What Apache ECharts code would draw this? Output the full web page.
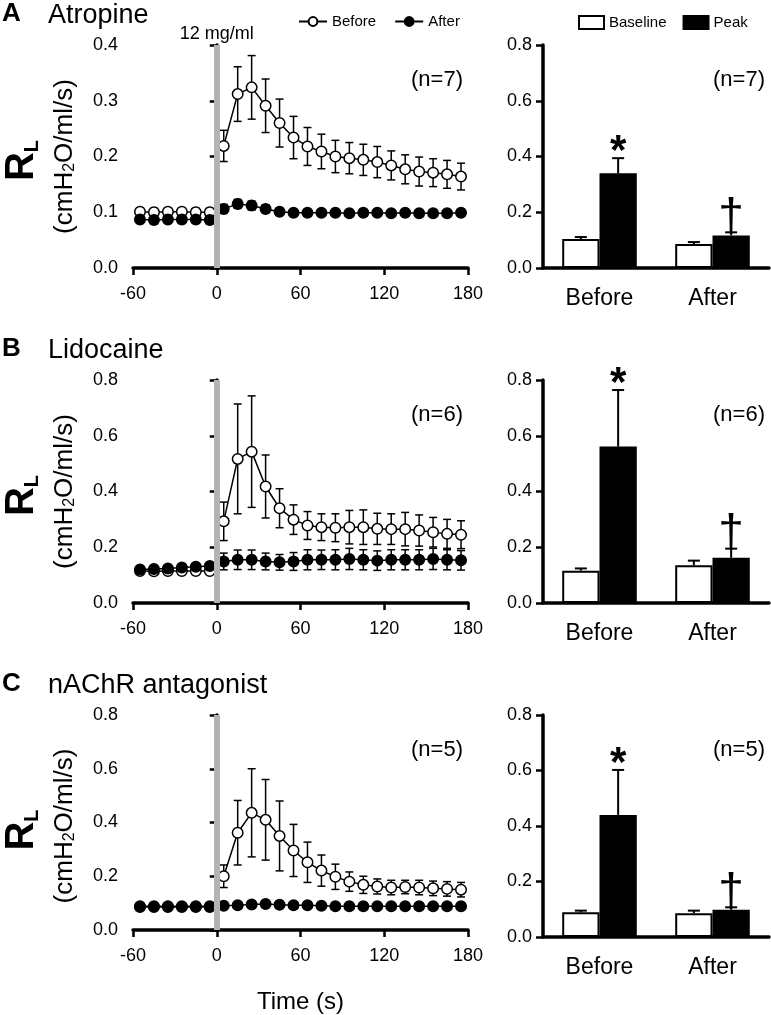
<!DOCTYPE html>
<html>
<head>
<meta charset="utf-8">
<script src="https://cdn.jsdelivr.net/npm/echarts@6/dist/echarts.min.js"></script>
<style>html,body{margin:0;padding:0;background:#fff}#c{width:771px;height:1015px}</style>
</head>
<body>
<div id="c"></div>
<script>
// ---------- DATA ----------
const preTimes = [-55, -45, -35, -25, -15, -5];
const postTimes = [5, 15, 25, 35, 45, 55, 65, 75, 85, 95, 105, 115, 125, 135, 145, 155, 165, 175];
const xTicks = [-60, 0, 60, 120, 180];
const barCategories = ['Before', 'After'];
const annotations = ['*', '\u2020'];

const panelTitles = ['Atropine', 'Lidocaine', 'nAChR antagonist'];
const panelLetters = ['A', 'B', 'C'];
const nLabels = ['(n=7)', '(n=6)', '(n=5)'];
const doseLabel = '12 mg/ml';

// Panel A – Atropine
const aBeforePre = [0.101, 0.100, 0.101, 0.101, 0.100, 0.100];
const aBeforePreErr = [0.007, 0.007, 0.007, 0.007, 0.007, 0.007];
const aBeforePost = [0.219, 0.312, 0.324, 0.291, 0.260, 0.234, 0.218, 0.209, 0.200, 0.197, 0.194, 0.190, 0.184, 0.177, 0.173, 0.171, 0.168, 0.164];
const aBeforePostErr = [0.028, 0.049, 0.057, 0.048, 0.043, 0.038, 0.034, 0.031, 0.029, 0.028, 0.028, 0.028, 0.026, 0.026, 0.026, 0.025, 0.025, 0.024];
const aAfterPre = [0.087, 0.086, 0.087, 0.087, 0.087, 0.086];
const aAfterPreErr = [0.007, 0.007, 0.007, 0.007, 0.007, 0.007];
const aAfterPost = [0.106, 0.115, 0.112, 0.106, 0.101, 0.099, 0.099, 0.099, 0.099, 0.098, 0.099, 0.099, 0.098, 0.099, 0.098, 0.098, 0.098, 0.099];
const aAfterPostErr = [0.008, 0.008, 0.008, 0.007, 0.006, 0.005, 0.005, 0.005, 0.005, 0.005, 0.005, 0.005, 0.005, 0.005, 0.005, 0.005, 0.005, 0.005];
const aBaseline = [0.104, 0.086];
const aBaselineErr = [0.007, 0.007];
const aPeak = [0.340, 0.117];
const aPeakErr = [0.054, 0.011];

// Panel B – Lidocaine
const bBeforePre = [0.115, 0.114, 0.115, 0.115, 0.115, 0.115];
const bBeforePreErr = [0.005, 0.005, 0.005, 0.005, 0.005, 0.005];
const bBeforePost = [0.293, 0.517, 0.543, 0.418, 0.340, 0.299, 0.278, 0.272, 0.270, 0.272, 0.272, 0.266, 0.265, 0.265, 0.260, 0.254, 0.248, 0.245];
const bBeforePostErr = [0.069, 0.197, 0.200, 0.113, 0.070, 0.053, 0.050, 0.048, 0.050, 0.060, 0.062, 0.056, 0.055, 0.060, 0.056, 0.053, 0.052, 0.050];
const bAfterPre = [0.120, 0.122, 0.124, 0.127, 0.130, 0.133];
const bAfterPreErr = [0.004, 0.005, 0.006, 0.007, 0.008, 0.009];
const bAfterPost = [0.149, 0.155, 0.155, 0.149, 0.146, 0.149, 0.155, 0.155, 0.155, 0.158, 0.155, 0.152, 0.155, 0.155, 0.155, 0.158, 0.155, 0.153];
const bAfterPostErr = [0.030, 0.035, 0.035, 0.030, 0.028, 0.032, 0.036, 0.035, 0.036, 0.038, 0.036, 0.035, 0.036, 0.036, 0.036, 0.038, 0.036, 0.035];
const bBaseline = [0.116, 0.135];
const bBaselineErr = [0.008, 0.017];
const bPeak = [0.561, 0.162];
const bPeakErr = [0.203, 0.033];

// Panel C – nAChR antagonist
const cBeforePre = [0.088, 0.088, 0.088, 0.088, 0.088, 0.088];
const cBeforePreErr = [0.004, 0.004, 0.004, 0.004, 0.004, 0.004];
const cBeforePost = [0.200, 0.362, 0.436, 0.410, 0.350, 0.296, 0.252, 0.221, 0.198, 0.180, 0.168, 0.162, 0.158, 0.160, 0.158, 0.155, 0.153, 0.150];
const cBeforePostErr = [0.042, 0.120, 0.164, 0.150, 0.130, 0.097, 0.075, 0.058, 0.047, 0.036, 0.032, 0.028, 0.027, 0.025, 0.027, 0.027, 0.027, 0.027];
const cAfterPre = [0.086, 0.086, 0.086, 0.086, 0.086, 0.086];
const cAfterPreErr = [0.003, 0.003, 0.003, 0.003, 0.003, 0.003];
const cAfterPost = [0.090, 0.092, 0.095, 0.097, 0.094, 0.092, 0.092, 0.090, 0.088, 0.088, 0.088, 0.088, 0.088, 0.088, 0.088, 0.088, 0.088, 0.088];
const cAfterPostErr = [0.004, 0.004, 0.004, 0.004, 0.004, 0.004, 0.004, 0.004, 0.004, 0.004, 0.004, 0.004, 0.004, 0.004, 0.004, 0.004, 0.004, 0.004];
const cBaseline = [0.089, 0.086];
const cBaselineErr = [0.006, 0.009];
const cPeak = [0.440, 0.098];
const cPeakErr = [0.162, 0.009];

// ---------- LAYOUT ----------
const FONT = 'Liberation Sans, Arial, sans-serif';
const panels = [
  { top: 45, height: 223, lineMax: 0.4, lineInt: 0.1,
    before: [aBeforePre, aBeforePost, aBeforePreErr, aBeforePostErr],
    after: [aAfterPre, aAfterPost, aAfterPreErr, aAfterPostErr],
    bars: [aBaseline, aBaselineErr, aPeak, aPeakErr] },
  { top: 380, height: 223, lineMax: 0.8, lineInt: 0.2,
    before: [bBeforePre, bBeforePost, bBeforePreErr, bBeforePostErr],
    after: [bAfterPre, bAfterPost, bAfterPreErr, bAfterPostErr],
    bars: [bBaseline, bBaselineErr, bPeak, bPeakErr] },
  { top: 715, height: 222, lineMax: 0.8, lineInt: 0.2,
    before: [cBeforePre, cBeforePost, cBeforePreErr, cBeforePostErr],
    after: [cAfterPre, cAfterPost, cAfterPreErr, cAfterPostErr],
    bars: [cBaseline, cBaselineErr, cPeak, cPeakErr] }
];
const LINE_LEFT = 133, LINE_W = 335, BAR_LEFT = 543, BAR_W = 226;

function lineData(pre, post) {
  return preTimes.map((t, i) => [t, pre[i]])
    .concat([[0, null]])
    .concat(postTimes.map((t, i) => [t, post[i]]));
}
function errData(pre, post, preE, postE) {
  return preTimes.map((t, i) => [t, pre[i], preE[i]])
    .concat(postTimes.map((t, i) => [t, post[i], postE[i]]));
}
function renderLineErr(params, api) {
  const x = api.value(0), y = api.value(1), e = api.value(2);
  const t = api.coord([x, y + e]), b = api.coord([x, y - e]);
  const hw = 4, st = { stroke: '#000', lineWidth: 1.5 };
  return { type: 'group', children: [
    { type: 'line', shape: { x1: t[0], y1: t[1], x2: b[0], y2: b[1] }, style: st },
    { type: 'line', shape: { x1: t[0] - hw, y1: t[1], x2: t[0] + hw, y2: t[1] }, style: st },
    { type: 'line', shape: { x1: b[0] - hw, y1: b[1], x2: b[0] + hw, y2: b[1] }, style: st }
  ]};
}
function makeBarErr(sign, marks) {
  return function (params, api) {
    const idx = api.value(0), v = api.value(1), e = api.value(2);
    const band = api.size([1, 0])[0];
    const base = api.coord([idx, v]), top = api.coord([idx, v + e]);
    const x = base[0] + sign * 0.165 * band;
    const hw = 6, st = { stroke: '#000', lineWidth: 2 };
    const ch = [
      { type: 'line', shape: { x1: x, y1: base[1], x2: x, y2: top[1] }, style: st },
      { type: 'line', shape: { x1: x - hw, y1: top[1], x2: x + hw, y2: top[1] }, style: st }
    ];
    if (marks) {
      const g = marks[params.dataIndex];
      const isStar = g === '*';
      ch.push({ type: 'text', x: x, y: top[1] + (isStar ? 15 : 9),
        style: { text: g, fill: '#000', font: (isStar ? 'bold 42px ' : '46px ') + FONT,
          textAlign: 'center', textVerticalAlign: 'bottom' } });
    }
    return { type: 'group', children: ch };
  };
}

const grids = [], xAxes = [], yAxes = [], series = [], graphics = [];
const axisLineStyle = { color: '#000', width: 3.5 };
const tickStyle = { color: '#000', width: 2.5 };

panels.forEach((p, k) => {
  grids.push({ left: LINE_LEFT, top: p.top, width: LINE_W, height: p.height });
  grids.push({ left: BAR_LEFT, top: p.top, width: BAR_W, height: p.height });
  const gL = 2 * k, gB = 2 * k + 1;
  xAxes.push({ gridIndex: gL, type: 'value', min: -60, max: 180, interval: 60,
    axisLine: { lineStyle: axisLineStyle }, axisTick: { length: 7, lineStyle: tickStyle },
    splitLine: { show: false },
    axisLabel: { color: '#000', fontSize: 18, fontFamily: FONT, margin: 17 },
    name: k === 2 ? 'Time (s)' : '', nameLocation: 'middle', nameGap: 60,
    nameTextStyle: { color: '#000', fontSize: 24, fontFamily: FONT } });
  yAxes.push({ gridIndex: gL, type: 'value', min: 0, max: p.lineMax, interval: p.lineInt,
    axisLine: { show: true, lineStyle: axisLineStyle }, axisTick: { show: true, length: 7, lineStyle: tickStyle },
    splitLine: { show: false },
    axisLabel: { color: '#000', fontSize: 18, fontFamily: FONT, margin: 15, formatter: v => v.toFixed(1) } });
  xAxes.push({ gridIndex: gB, type: 'category', data: barCategories,
    axisLine: { lineStyle: axisLineStyle }, axisTick: { show: false },
    axisLabel: { color: '#000', fontSize: 23, fontFamily: FONT, margin: 19 } });
  yAxes.push({ gridIndex: gB, type: 'value', min: 0, max: 0.8, interval: 0.2,
    axisLine: { show: true, lineStyle: axisLineStyle }, axisTick: { show: true, length: 7, lineStyle: tickStyle },
    splitLine: { show: false },
    axisLabel: { color: '#000', fontSize: 18, fontFamily: FONT, margin: 11, formatter: v => v.toFixed(1) } });

  series.push({ type: 'custom', xAxisIndex: gL, yAxisIndex: gL, z: 2, silent: true,
    renderItem: renderLineErr, encode: { x: 0, y: 1 },
    data: errData(p.before[0], p.before[1], p.before[2], p.before[3]) });
  series.push({ type: 'custom', xAxisIndex: gL, yAxisIndex: gL, z: 2, silent: true,
    renderItem: renderLineErr, encode: { x: 0, y: 1 },
    data: errData(p.after[0], p.after[1], p.after[2], p.after[3]) });
  series.push({ name: 'Before', type: 'line', xAxisIndex: gL, yAxisIndex: gL, z: 3,
    data: lineData(p.before[0], p.before[1]), connectNulls: false,
    symbol: 'circle', symbolSize: 10.5,
    lineStyle: { color: '#000', width: 1.5 },
    itemStyle: { color: '#fff', borderColor: '#000', borderWidth: 1.5 },
    markLine: { silent: true, symbol: 'none', animation: false,
      lineStyle: { color: '#b3b3b3', width: 6, type: 'solid' },
      label: { show: k === 0, formatter: doseLabel, position: 'end', distance: 2,
        color: '#000', fontSize: 18, fontFamily: FONT },
      data: [{ xAxis: 0 }] } });
  series.push({ name: 'After', type: 'line', xAxisIndex: gL, yAxisIndex: gL, z: 4,
    data: lineData(p.after[0], p.after[1]), connectNulls: false,
    symbol: 'circle', symbolSize: 10.5,
    lineStyle: { color: '#000', width: 1.5 },
    itemStyle: { color: '#000', borderColor: '#000', borderWidth: 1.5 } });

  series.push({ name: 'Baseline', type: 'bar', xAxisIndex: gB, yAxisIndex: gB,
    data: p.bars[0], barWidth: '33%', barGap: '0%',
    itemStyle: { color: '#fff', borderColor: '#000', borderWidth: 2 } });
  series.push({ name: 'Peak', type: 'bar', xAxisIndex: gB, yAxisIndex: gB,
    data: p.bars[2], barWidth: '33%', barGap: '0%',
    itemStyle: { color: '#000', borderColor: '#000', borderWidth: 2 } });
  series.push({ type: 'custom', xAxisIndex: gB, yAxisIndex: gB, z: 5, silent: true,
    renderItem: makeBarErr(-1, null), encode: { x: 0, y: 1 },
    data: p.bars[0].map((v, i) => [i, v, p.bars[1][i]]) });
  series.push({ type: 'custom', xAxisIndex: gB, yAxisIndex: gB, z: 5, silent: true,
    renderItem: makeBarErr(1, annotations), encode: { x: 0, y: 1 },
    data: p.bars[2].map((v, i) => [i, v, p.bars[3][i]]) });

  const titleY = p.top - 30;
  graphics.push({ type: 'text', x: 2, y: titleY - 1, style: { text: panelLetters[k],
    font: 'bold 26px ' + FONT, fill: '#000', textVerticalAlign: 'middle' } });
  graphics.push({ type: 'text', x: 48, y: titleY + 1, style: { text: panelTitles[k],
    font: '27px ' + FONT, fill: '#000', textVerticalAlign: 'middle' } });
  graphics.push({ type: 'text', x: 463, y: p.top + 35, style: { text: nLabels[k],
    font: '22px ' + FONT, fill: '#000', textAlign: 'right', textVerticalAlign: 'middle' } });
  graphics.push({ type: 'text', x: 765, y: p.top + 35, style: { text: nLabels[k],
    font: '22px ' + FONT, fill: '#000', textAlign: 'right', textVerticalAlign: 'middle' } });
  const cy = p.top + p.height / 2;
  graphics.push({ type: 'text', x: 22, y: cy + 4, rotation: Math.PI / 2, style: {
    text: '{r|R}{s|L}', textAlign: 'center', textVerticalAlign: 'middle', fill: '#000',
    rich: { r: { font: 'bold 40px ' + FONT, fill: '#000' },
            s: { font: 'bold 20px ' + FONT, fill: '#000', verticalAlign: 'bottom' } } } });
  graphics.push({ type: 'text', x: 65, y: cy, rotation: Math.PI / 2, style: {
    text: '{a|(cmH}{b|2}{a|O/ml/s)}', textAlign: 'center', textVerticalAlign: 'middle', fill: '#000',
    rich: { a: { font: '26px ' + FONT, fill: '#000' },
            b: { font: '16px ' + FONT, fill: '#000', verticalAlign: 'bottom' } } } });
});

const option = {
  animation: false,
  backgroundColor: '#fff',
  grid: grids, xAxis: xAxes, yAxis: yAxes, series: series,
  legend: [
    { data: ['Before', 'After'], left: 293, top: 9, itemWidth: 28, itemHeight: 11, itemGap: 18,
      textStyle: { color: '#000', fontSize: 15, fontFamily: FONT }, selectedMode: false },
    { data: ['Baseline', 'Peak'], left: 573, top: 10, itemWidth: 25, itemHeight: 13, itemGap: 16,
      icon: 'rect',
      textStyle: { color: '#000', fontSize: 15, fontFamily: FONT }, selectedMode: false }
  ],
  graphic: graphics
};
const chart = echarts.init(document.getElementById('c'));
chart.setOption(option);
</script>
</body>
</html>
